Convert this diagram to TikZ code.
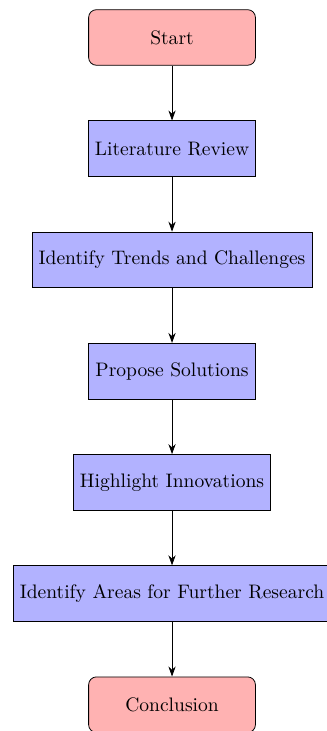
\documentclass[tikz,border=0pt]{standalone}
\usetikzlibrary{arrows.meta,positioning}
\begin{document}
\begin{tikzpicture}[
  terminal/.style={rectangle, rounded corners, minimum width=3cm, minimum height=1cm,
    text centered, draw=black, fill=red!30},
  stepbox/.style={rectangle, minimum width=3cm, minimum height=1cm,
    text centered, draw=black, fill=blue!30},
  flow/.style={-{Stealth[length=1.8mm,width=1.3mm]}}
]
\useasboundingbox (-3.094,0.674) rectangle (2.770,-12.473);
\node[terminal] (start) at (0,0) {Start};
\node[stepbox] (lit) at (0,-2) {Literature Review};
\node[stepbox] (trends) at (0,-4) {Identify Trends and Challenges};
\node[stepbox] (solve) at (0,-6) {Propose Solutions};
\node[stepbox] (innov) at (0,-8) {Highlight Innovations};
\node[stepbox] (areas) at (0,-10) {Identify Areas for Further Research};
\node[terminal] (concl) at (0,-12) {Conclusion};
\draw[flow] (start) -- (lit);
\draw[flow] (lit) -- (trends);
\draw[flow] (trends) -- (solve);
\draw[flow] (solve) -- (innov);
\draw[flow] (innov) -- (areas);
\draw[flow] (areas) -- (concl);
\end{tikzpicture}
\end{document}
